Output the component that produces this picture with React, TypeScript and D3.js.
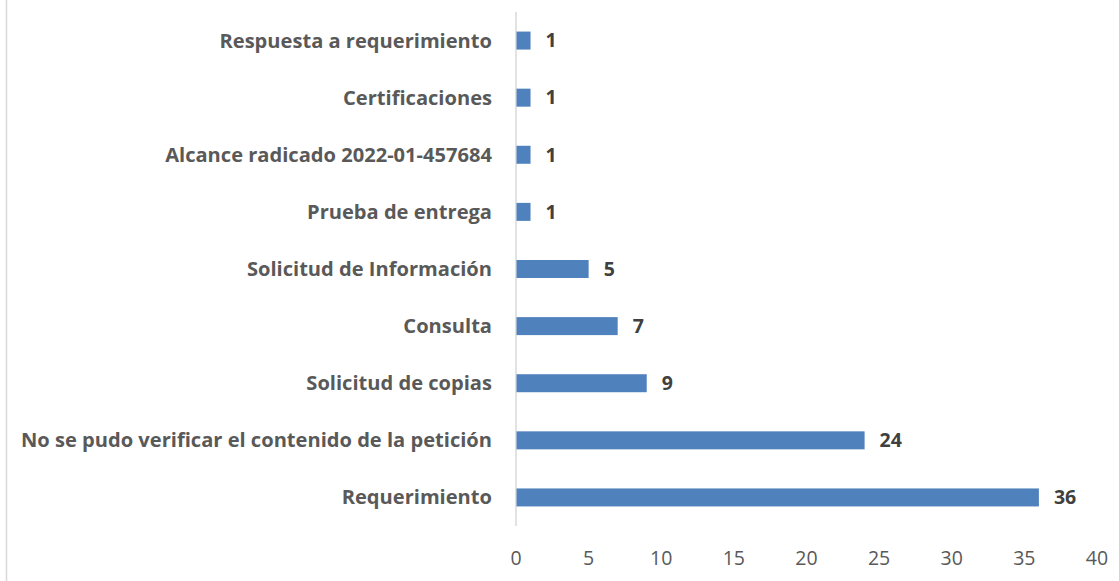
import React from "react";
import * as d3 from "d3";

const categories = [
  "Respuesta a requerimiento",
  "Certificaciones",
  "Alcance radicado 2022-01-457684",
  "Prueba de entrega",
  "Solicitud de Información",
  "Consulta",
  "Solicitud de copias",
  "No se pudo verificar el contenido de la petición",
  "Requerimiento",
];
const values = [1, 1, 1, 1, 5, 7, 9, 24, 36];
const ticks = [0, 5, 10, 15, 20, 25, 30, 35, 40];

const W = 1119;
const H = 581;
const FONT = "'Open Sans', 'Noto Sans', sans-serif";

export default function App() {
  const x = d3.scaleLinear().domain([0, 40]).range([516, 1097]);
  const y = d3
    .scaleBand<string>()
    .domain(categories)
    .range([12, 526])
    .paddingInner(0.685)
    .paddingOuter(0.3425);

  return (
    <svg
      width={W}
      height={H}
      style={{ position: "absolute", left: 0, top: 0 }}
    >
      <rect x={0} y={0} width={W} height={H} fill="#fff" />
      <line x1={6.5} x2={6.5} y1={0} y2={H} stroke="#d9d9d9" strokeWidth={1.5} />
      <line x1={x(0)} x2={x(0)} y1={12} y2={526} stroke="#d9d9d9" strokeWidth={1.5} />
      {categories.map((c, i) => {
        const yy = y(c)!;
        const bw = y.bandwidth();
        return (
          <g key={c}>
            <rect
              x={x(0) + 0.5}
              y={yy}
              width={x(values[i]) - x(0) - 0.5}
              height={bw}
              fill="#4f81bd"
            />
            <text
              x={492}
              y={yy + bw / 2}
              dy="0.35em"
              textAnchor="end"
              fontFamily={FONT}
              fontWeight="bold"
              fontSize={20.1}
              fill="#595959"
            >
              {c}
            </text>
            <text
              x={x(values[i]) + 15}
              y={yy + bw / 2}
              dy="0.35em"
              textAnchor="start"
              fontFamily={FONT}
              fontWeight="bold"
              fontSize={19.5}
              fill="#404040"
            >
              {values[i]}
            </text>
          </g>
        );
      })}
      {ticks.map((t) => (
        <text
          key={t}
          x={x(t)}
          y={558}
          dy="0.35em"
          textAnchor="middle"
          fontFamily={FONT}
          fontSize={19.5}
          fill="#595959"
        >
          {t}
        </text>
      ))}
    </svg>
  );
}
